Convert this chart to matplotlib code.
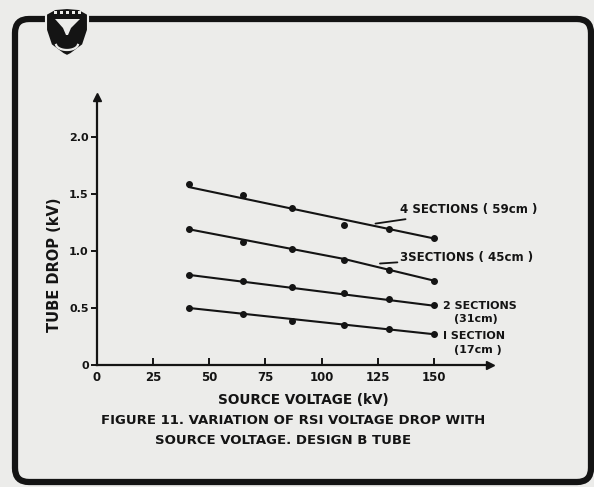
import numpy as np
import matplotlib
matplotlib.use("Agg")
import matplotlib.pyplot as plt
from matplotlib.patches import FancyBboxPatch, Polygon

# measured points (source voltage kV -> tube drop kV)
source_kv = [41, 65, 87, 110, 130, 150]
drop_4sec = [1.59, 1.49, 1.38, 1.23, 1.19, 1.11]
drop_3sec = [1.19, 1.08, 1.02, 0.92, 0.83, 0.74]
drop_2sec = [0.79, 0.74, 0.68, 0.63, 0.58, 0.53]
drop_1sec = [0.50, 0.45, 0.39, 0.35, 0.32, 0.27]

# hand-drawn fit lines
fit4_x, fit4_y = [41, 150], [1.56, 1.11]
fit3_x, fit3_y = [41, 110, 150], [1.19, 0.93, 0.74]
fit2_x, fit2_y = [41, 150], [0.79, 0.52]
fit1_x, fit1_y = [41, 150], [0.50, 0.27]

x_ticks = [0, 25, 50, 75, 100, 125, 150]
y_ticks = [0, 0.5, 1.0, 1.5, 2.0]
y_tick_labels = ["0", "0.5", "1.0", "1.5", "2.0"]

bg = "#ececea"
ink = "#141414"
plt.rcParams["font.family"] = ["DejaVu Sans"]
plt.rcParams["font.weight"] = "bold"

fig = plt.figure(figsize=(5.94, 4.87), dpi=100, facecolor=bg)

# page overlay in pixel coords: border and emblem
ov = fig.add_axes([0, 0, 1, 1], zorder=0)
ov.set_xlim(0, 594)
ov.set_ylim(487, 0)
ov.axis("off")
ov.add_patch(FancyBboxPatch((15, 19), 576, 463, boxstyle="round,pad=0,rounding_size=14",
                            fill=False, lw=4.5, ec=ink))
shield = [(46, 14), (55, 9), (67, 8), (79, 9), (88, 14), (88, 30), (83, 45), (71, 54),
          (67, 56), (63, 54), (51, 45), (46, 30)]
ov.add_patch(Polygon(shield, closed=True, fc=ink, ec=bg, lw=1.5, zorder=3))
ov.add_patch(Polygon([(55, 19), (80, 19), (71, 28), (68, 35), (66, 35), (63, 28)],
                     closed=True, fc=bg, ec="none", zorder=4))
for xs in [54, 60, 66, 72, 78]:
    ov.add_patch(Polygon([(xs, 11), (xs + 3, 11), (xs + 3, 14), (xs, 14)], fc=bg, ec="none", zorder=4))
arc_t = np.linspace(0.15, np.pi - 0.15, 30)
ov.plot(67 + 11 * np.cos(arc_t), 44 + 6 * np.sin(arc_t), color=bg, lw=1.6, zorder=4)

ax = fig.add_axes([0.1633, 0.2505, 0.6616, 0.5503], zorder=1)
ax.patch.set_alpha(0)
ax.set_xlim(0, 175)
ax.set_ylim(0, 2.35)
for s in ["top", "right"]:
    ax.spines[s].set_visible(False)
for s in ["left", "bottom"]:
    ax.spines[s].set_linewidth(1.6)
    ax.spines[s].set_color(ink)
ax.plot(1, 0, ">", color=ink, ms=6, transform=ax.transAxes, clip_on=False)
ax.plot(0, 1, "^", color=ink, ms=6, transform=ax.transAxes, clip_on=False)

ax.set_xticks(x_ticks)
ax.set_yticks(y_ticks)
ax.set_yticklabels(y_tick_labels)
ax.tick_params(axis="x", direction="in", length=5, width=1.4, colors=ink, labelsize=8.5, pad=4)
ax.tick_params(axis="y", direction="out", length=4, width=1.4, colors=ink, labelsize=8, pad=2)

for fx, fy in [(fit4_x, fit4_y), (fit3_x, fit3_y), (fit2_x, fit2_y), (fit1_x, fit1_y)]:
    ax.plot(fx, fy, color=ink, lw=1.5)
for ys in [drop_4sec, drop_3sec, drop_2sec, drop_1sec]:
    ax.plot(source_kv, ys, "o", color=ink, ms=4, ls="none")

tk = dict(fontsize=8.5, fontweight="bold", color=ink, va="center")
ax.annotate("4 SECTIONS ( 59cm )", xy=(124, 1.24), xytext=(135, 1.36), ha="left",
            arrowprops=dict(arrowstyle="-", color=ink, lw=1.3, shrinkA=0, shrinkB=0), **tk)
ax.annotate("3SECTIONS ( 45cm )", xy=(126, 0.89), xytext=(135, 0.94), ha="left",
            arrowprops=dict(arrowstyle="-", color=ink, lw=1.3, shrinkA=0, shrinkB=0), **tk)
tk_small = dict(tk, fontsize=8)
ax.text(154, 0.515, "2 SECTIONS", ha="left", **tk_small)
ax.text(159, 0.40, "(31cm)", ha="left", **tk_small)
ax.text(154, 0.25, "I SECTION", ha="left", **tk_small)
ax.text(159, 0.135, "(17cm )", ha="left", **tk_small)

ax.set_xlabel("SOURCE VOLTAGE (kV)", fontsize=9.8, fontweight="bold", color=ink)
ax.xaxis.set_label_coords((303 - 97) / 393, -(393 - 365) / 268)
ax.set_ylabel("TUBE DROP (kV)", fontsize=10.5, fontweight="bold", color=ink)
ax.yaxis.set_label_coords(-(97 - 62) / 393, (365 - 265) / 268)

fig.text(293 / 594, 1 - 420 / 487, "FIGURE 11. VARIATION OF RSI VOLTAGE DROP WITH",
         ha="center", va="center", fontsize=9.5, fontweight="bold", color=ink)
fig.text(283 / 594, 1 - 440 / 487, "SOURCE VOLTAGE. DESIGN B TUBE",
         ha="center", va="center", fontsize=9.5, fontweight="bold", color=ink)

fig.savefig("out.png", dpi=100, facecolor=bg)
